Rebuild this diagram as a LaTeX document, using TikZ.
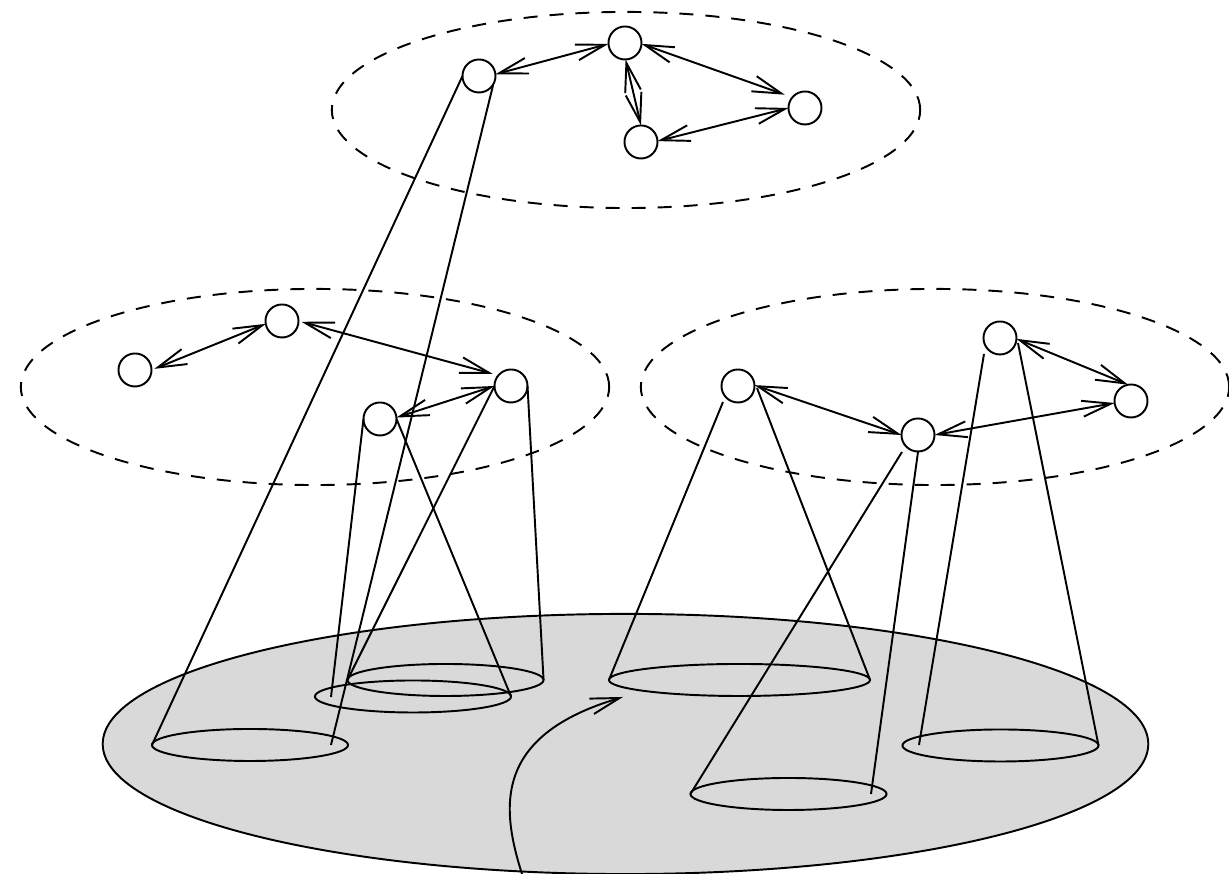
\documentclass[tikz,border=0pt]{standalone}
\usepackage{xcolor}
\usetikzlibrary{shapes.geometric,arrows.meta}
\definecolor{basegray}{gray}{0.85}

\begin{document}
\begin{tikzpicture}[x=0.01cm,y=-0.01cm,line width=0.55pt,
    >={Straight Barb[length=2.9mm,width=1.6mm]},
    agent/.style={circle,draw,inner sep=0pt,outer sep=0pt,minimum size=3.3mm},
    region/.style={ellipse,draw,inner sep=0pt,outer sep=0pt,minimum width=1.96cm,minimum height=3.2mm},
    layer/.style={ellipse,draw,dash pattern=on 1.4mm off 1.2mm,inner sep=0pt,outer sep=0pt,minimum width=5.88cm,minimum height=1.96cm},
    link/.style={<->}]
    \useasboundingbox (0,0) rectangle (1229,874);
    % base plane
    \node (base) [ellipse,draw,fill=basegray,inner sep=0pt,outer sep=0pt,minimum width=10.45cm,minimum height=2.6cm] at (625.5,744) {};
    % dashed layers
    \node (top) [layer] at (626,110) {};
    \node (left) [layer] at (315,387) {};
    \node (right) [layer] at (935,387) {};
    % agents
    \node (a) [agent] at (479,76) {};
    \node (b) [agent] at (625,43) {};
    \node (c) [agent] at (641,142) {};
    \node (d) [agent] at (805,108) {};
    \node (e) [agent] at (135,370) {};
    \node (f) [agent] at (282,321) {};
    \node (g) [agent] at (511,386) {};
    \node (h) [agent] at (380,419) {};
    \node (i) [agent] at (738,386) {};
    \node (j) [agent] at (918,435) {};
    \node (k) [agent] at (1131,401) {};
    \node (l) [agent] at (1000,338) {};
    % links
    \draw [link] (a.6) -- (b.183);
    \draw [link,shorten >=0.8mm] (b.-3) -- (d.140);
    \draw [link] (b.-88) -- (c.90);
    \draw [link] (c.3) -- (d.180);
    \draw [link,shorten <=0.3mm] (e.0) -- (f.190);
    \draw [link,shorten >=0.6mm,shorten <=0.3mm] (f.0) -- (g.140);
    \draw [link] (h.5) -- (g.180);
    \draw [link] (i.3) -- (j.180);
    \draw [link] (j.0) -- (k.187);
    \draw [link] (l.-3) -- (k.100);
    % regions on the plane
    \node (ra) [region] at (250,745) {};
    \node (rg) [region] at (445.5,680) {};
    \node (rh) [region] at (413,696.5) {};
    \node (ri) [region,minimum width=2.61cm] at (739.5,680) {};
    \node (rj) [region] at (788.5,794) {};
    \node (rl) [region] at (1000.5,745.5) {};
    % free ends of the cones
    \coordinate (aend) at (331,745);
    \coordinate (hend) at (331,697);
    \coordinate (jend) at (871,794);
    \coordinate (lend) at (919,745);
    \coordinate (pa) at (723,402);
    \coordinate (pb) at (757,388);
    \coordinate (pc) at (902,452);
    \coordinate (pd) at (918,452);
    \coordinate (pe) at (984,354);
    \coordinate (pf) at (1018,343);
    % cones
    \draw (a.180) -- (ra.west);
    \draw (a.-30) -- (aend);
    \draw (h.180) -- (hend);
    \draw (h.0) -- (rh.east);
    \draw (g.0) -- (rg.east);
    \draw (g.180) -- (rg.west);
    \draw (pa) -- (ri.west);
    \draw (pb) -- (ri.east);
    \draw (pc) -- (rj.west);
    \draw (pd) -- (jend);
    \draw (pe) -- (lend);
    \draw (pf) -- (rl.east);
    % arrow across the plane
    \coordinate (from) at (522,874);
    \coordinate (to) at (623,697);
    \draw [->] (from) .. controls (500,805) and (495,735) .. (to);
\end{tikzpicture}
\end{document}
